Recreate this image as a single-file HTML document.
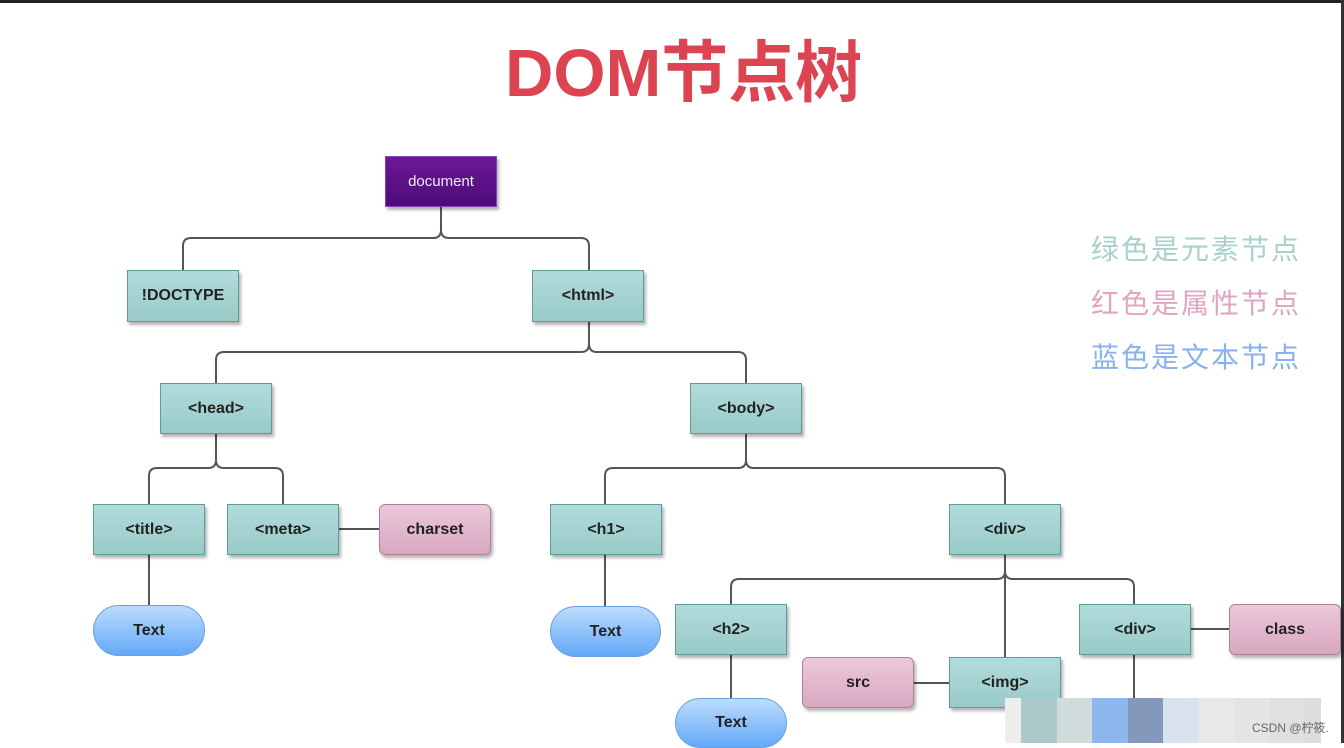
<!DOCTYPE html>
<html><head><meta charset="utf-8"><style>
html,body{margin:0;padding:0}
body{width:1344px;height:743px;position:relative;background:#fff;overflow:hidden;font-family:"Liberation Sans","Noto Sans CJK SC",sans-serif}
.n{position:absolute;display:flex;align-items:center;justify-content:center;font-weight:bold;font-size:16px;color:#222;box-sizing:border-box;box-shadow:2px 3px 3px rgba(0,0,0,.3)}
.g{background:linear-gradient(#b2dcdc,#98cac6);border:1px solid #5e9c98}
.p{background:linear-gradient(#ecc8da,#d8a8c0);border:1px solid #b0809a;border-radius:6px}
.b{background:linear-gradient(#bcdcfc,#64a8f8);border:1px solid #6aa0e0;border-radius:26px;box-shadow:none}
.leg{position:absolute;left:1091px;font-size:28px;font-family:"Noto Sans CJK SC",sans-serif;letter-spacing:2px}
</style></head><body>
<div style="position:absolute;left:0;top:0;width:1344px;height:3px;background:#222"></div>
<div style="position:absolute;right:0;top:0;width:3px;height:743px;background:#333"></div>
<div style="position:absolute;left:505px;top:29px;font-size:67px;font-weight:bold;color:#db4450;font-family:'Liberation Sans','Noto Sans CJK SC',sans-serif;line-height:90px">DOM节点树</div>
<div class="leg" style="top:228px;color:#a6d2ca">绿色是元素节点</div>
<div class="leg" style="top:282px;color:#e0a6c0">红色是属性节点</div>
<div class="leg" style="top:336px;color:#86b2ee">蓝色是文本节点</div>
<svg style="position:absolute;left:0;top:0" width="1344" height="743" fill="none" stroke="#555" stroke-width="2">
<path d="M441 207V230q0 8-8 8H191q-8 0-8 8V270M441 230q0 8 8 8H581q8 0 8 8V270"/>
<path d="M589 322V344q0 8-8 8H224q-8 0-8 8V383M589 344q0 8 8 8H738q8 0 8 8V383"/>
<path d="M216 434V460q0 8-8 8H157q-8 0-8 8V504M216 460q0 8 8 8H275q8 0 8 8V504"/>
<path d="M746 434V460q0 8-8 8H613q-8 0-8 8V504M746 460q0 8 8 8H997q8 0 8 8V504"/>
<path d="M1005 555V571q0 8-8 8H739q-8 0-8 8V604M1005 571q0 8 8 8H1126q8 0 8 8V604M1005 571V657"/>
<path d="M339 529H379M149 555V605M605 555V606M731 655V698M914 683H949M1191 629H1229M1134 655V700"/>
</svg>
<div class="n" style="left:385px;top:156px;width:112px;height:51px;background:linear-gradient(#6c1898,#4c0c78);border:1px solid #8844bb;color:#eee;font-weight:normal;font-size:15px">document</div>
<div class="n g" style="left:127px;top:270px;width:112px;height:52px">!DOCTYPE</div>
<div class="n g" style="left:532px;top:270px;width:112px;height:52px">&lt;html&gt;</div>
<div class="n g" style="left:160px;top:383px;width:112px;height:51px">&lt;head&gt;</div>
<div class="n g" style="left:690px;top:383px;width:112px;height:51px">&lt;body&gt;</div>
<div class="n g" style="left:93px;top:504px;width:112px;height:51px">&lt;title&gt;</div>
<div class="n g" style="left:227px;top:504px;width:112px;height:51px">&lt;meta&gt;</div>
<div class="n p" style="left:379px;top:504px;width:112px;height:51px">charset</div>
<div class="n g" style="left:550px;top:504px;width:112px;height:51px">&lt;h1&gt;</div>
<div class="n g" style="left:949px;top:504px;width:112px;height:51px">&lt;div&gt;</div>
<div class="n b" style="left:93px;top:605px;width:112px;height:51px">Text</div>
<div class="n b" style="left:550px;top:606px;width:111px;height:51px">Text</div>
<div class="n g" style="left:675px;top:604px;width:112px;height:51px">&lt;h2&gt;</div>
<div class="n g" style="left:1079px;top:604px;width:112px;height:51px">&lt;div&gt;</div>
<div class="n p" style="left:1229px;top:604px;width:112px;height:51px">class</div>
<div class="n p" style="left:802px;top:657px;width:112px;height:51px">src</div>
<div class="n g" style="left:949px;top:657px;width:112px;height:51px">&lt;img&gt;</div>
<div class="n b" style="left:675px;top:698px;width:112px;height:50px">Text</div>
<div style="position:absolute;left:1005px;top:698px;height:45px;display:flex">
<div style="width:16px;background:#eee"></div><div style="width:36px;background:#acc8c8"></div><div style="width:35px;background:#d0dcdc"></div><div style="width:36px;background:#8cb6ec"></div><div style="width:35px;background:#8498bc"></div><div style="width:36px;background:#d8e2ee"></div><div style="width:35px;background:#e8e8e8"></div><div style="width:36px;background:#e4e4e4"></div><div style="width:35px;background:#e0e0e0"></div><div style="width:16px;background:#ddd"></div>
</div>
<div style="position:absolute;left:1252px;top:719px;font-size:12px;color:#666;font-family:'Liberation Sans','Noto Sans CJK SC',sans-serif">CSDN @柠筱.</div>
</body></html>
